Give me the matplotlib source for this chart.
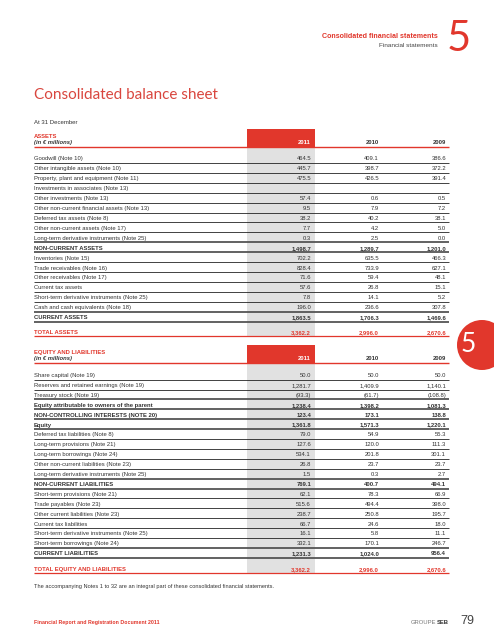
import matplotlib.pyplot as plt
from matplotlib.patches import Rectangle, Circle

RED = '#e1372c'
TXT = '#333333'
BAND = '#e1e1e1'
FONT = ['Liberation Sans', 'DejaVu Sans']

years = ['2011', '2010', '2009']

asset_labels = [
    'Goodwill (Note 10)',
    'Other intangible assets (Note 10)',
    'Property, plant and equipment (Note 11)',
    'Investments in associates (Note 13)',
    'Other investments (Note 13)',
    'Other non-current financial assets (Note 13)',
    'Deferred tax assets (Note 8)',
    'Other non-current assets (Note 17)',
    'Long-term derivative instruments (Note 25)',
    'NON-CURRENT ASSETS',
    'Inventories (Note 15)',
    'Trade receivables (Note 16)',
    'Other receivables (Note 17)',
    'Current tax assets',
    'Short-term derivative instruments (Note 25)',
    'Cash and cash equivalents (Note 18)',
    'CURRENT ASSETS',
]
asset_2011 = ['464.5', '445.7', '475.5', '', '57.4', '9.5', '38.2', '7.7', '0.3', '1,498.7',
              '702.2', '828.4', '71.6', '57.6', '7.8', '196.0', '1,863.5']
asset_2010 = ['409.1', '398.7', '426.5', '', '0.6', '7.9', '40.2', '4.2', '2.5', '1,289.7',
              '635.5', '733.9', '59.4', '26.8', '14.1', '236.6', '1,706.3']
asset_2009 = ['386.6', '372.2', '391.4', '', '0.5', '7.2', '38.1', '5.0', '0.0', '1,201.0',
              '466.3', '627.1', '48.1', '15.1', '5.2', '307.8', '1,469.6']
asset_total = ['3,362.2', '2,996.0', '2,670.6']

equity_labels = [
    'Share capital (Note 19)',
    'Reserves and retained earnings (Note 19)',
    'Treasury stock (Note 19)',
    'Equity attributable to owners of the parent',
    'NON-CONTROLLING INTERESTS (NOTE 20)',
    'Equity',
    'Deferred tax liabilities (Note 8)',
    'Long-term provisions (Note 21)',
    'Long-term borrowings (Note 24)',
    'Other non-current liabilities (Note 23)',
    'Long-term derivative instruments (Note 25)',
    'NON-CURRENT LIABILITIES',
    'Short-term provisions (Note 21)',
    'Trade payables (Note 23)',
    'Other current liabilities (Note 23)',
    'Current tax liabilities',
    'Short-term derivative instruments (Note 25)',
    'Short-term borrowings (Note 24)',
    'CURRENT LIABILITIES',
]
equity_2011 = ['50.0', '1,281.7', '(93.3)', '1,238.4', '123.4', '1,361.8', '79.0', '127.6', '534.1',
               '26.8', '1.5', '769.1', '62.1', '515.6', '238.7', '66.7', '16.1', '332.1', '1,231.3']
equity_2010 = ['50.0', '1,409.9', '(61.7)', '1,398.2', '173.1', '1,571.3', '54.9', '120.0', '201.8',
               '23.7', '0.3', '400.7', '78.3', '494.4', '250.8', '24.6', '5.8', '170.1', '1,024.0']
equity_2009 = ['50.0', '1,140.1', '(108.8)', '1,081.3', '138.8', '1,220.1', '55.3', '111.3', '301.1',
               '23.7', '2.7', '494.1', '66.9', '398.0', '195.7', '18.0', '11.1', '246.7', '956.4']
equity_total = ['3,362.2', '2,996.0', '2,670.6']

bold_rows = {'NON-CURRENT ASSETS', 'CURRENT ASSETS', 'Equity attributable to owners of the parent',
             'NON-CONTROLLING INTERESTS (NOTE 20)', 'Equity', 'NON-CURRENT LIABILITIES',
             'CURRENT LIABILITIES'}

fig = plt.figure(figsize=(4.94, 6.4), dpi=100)
ax = fig.add_axes([0, 0, 1, 1])
ax.set_xlim(0, 494)
ax.set_ylim(640, 0)
ax.axis('off')

X0, X1 = 34, 449
col_x = [311, 379, 446]
band_x0, band_x1 = 247, 315
fs = 4.2


def txt(x, y, s, **kw):
    kw.setdefault('fontsize', fs)
    kw.setdefault('color', TXT)
    kw.setdefault('family', FONT)
    kw.setdefault('va', 'center_baseline')
    ax.text(x, y, s, **kw)


def section(box_bottom, title, labels, cols, total_label, totals, y_first, step, y_total):
    ax.add_patch(Rectangle((band_x0, box_bottom - 18), band_x1 - band_x0, 18, color=RED, lw=0, zorder=2))
    ax.add_patch(Rectangle((band_x0, box_bottom), band_x1 - band_x0, y_total + 4 - box_bottom,
                           color=BAND, lw=0, zorder=1))
    txt(X0, box_bottom - 11, title, color=RED, fontweight='bold')
    txt(X0, box_bottom - 5, '(in € millions)', fontweight='bold', style='italic')
    for i, yr in enumerate(years):
        txt(col_x[i], box_bottom - 5, yr, ha='right', fontweight='bold',
            color='white' if i == 0 else TXT, zorder=3)
    ax.hlines(box_bottom, X0, X1, color=RED, lw=1.0, zorder=3)

    for i, lab in enumerate(labels):
        y = y_first + i * step
        bold = lab in bold_rows
        w = 'bold' if bold else 'normal'
        txt(X0, y, lab, fontweight=w, zorder=3)
        for j in range(3):
            txt(col_x[j], y, cols[j][i], ha='right', fontweight=w, zorder=3)
        nxt_bold = i + 1 < len(labels) and labels[i + 1] in bold_rows
        if bold or nxt_bold:
            ax.hlines(y + 4.6, X0, X1, color='#555555', lw=1.3, zorder=2)
        else:
            ax.hlines(y + 4.6, X0, X1, color='#222222', lw=0.6, zorder=2)

    txt(X0, y_total, total_label, color=RED, fontweight='bold', zorder=3)
    for j in range(3):
        txt(col_x[j], y_total, totals[j], ha='right', color=RED, fontweight='bold', zorder=3)
    ax.hlines(y_total + 3.8, X0, X1, color=RED, lw=0.9, zorder=3)


# page header
txt(438, 35, 'Consolidated financial statements', ha='right', color=RED, fontweight='bold', fontsize=5.1)
txt(438, 45, 'Financial statements', ha='right', color='#444444', fontsize=4.6)
ax.text(459, 39, '5', ha='center', va='center', color=RED, fontsize=30,
        family=['Lato', 'Liberation Sans'])

ax.text(X0, 95, 'Consolidated balance sheet', ha='left', va='center', color='#d9463e',
        fontsize=11.0, family=['Lato', 'DejaVu Sans'])
txt(X0, 122, 'At 31 December', fontsize=4.3)

section(147, 'ASSETS', asset_labels, [asset_2011, asset_2010, asset_2009],
        'TOTAL ASSETS', asset_total, 158.3, 9.93, 332.3)
section(363.3, 'EQUITY AND LIABILITIES', equity_labels, [equity_2011, equity_2010, equity_2009],
        'TOTAL EQUITY AND LIABILITIES', equity_total, 375, 9.9, 568.7)

# side tab
ax.add_patch(Circle((482, 345), 25, color=RED, lw=0, zorder=4))
ax.text(468, 345, '5', ha='center', va='center', color='white', fontsize=19, zorder=5,
        family=['Lato', 'Liberation Sans'])

txt(X0, 586, 'The accompanying Notes 1 to 32 are an integral part of these consolidated financial statements.',
    fontsize=4.1)

# footer
txt(X0, 622, 'Financial Report and Registration Document 2011', color=RED, fontweight='bold', fontsize=3.8)
txt(449, 622, 'SEB', ha='right', fontweight='bold', fontsize=4.2)
txt(436, 622, 'GROUPE', ha='right', color='#777777', fontsize=4.2)
txt(460, 620, '79', color='#444444', fontsize=9)

fig.savefig('out.png', dpi=100, facecolor='white')
